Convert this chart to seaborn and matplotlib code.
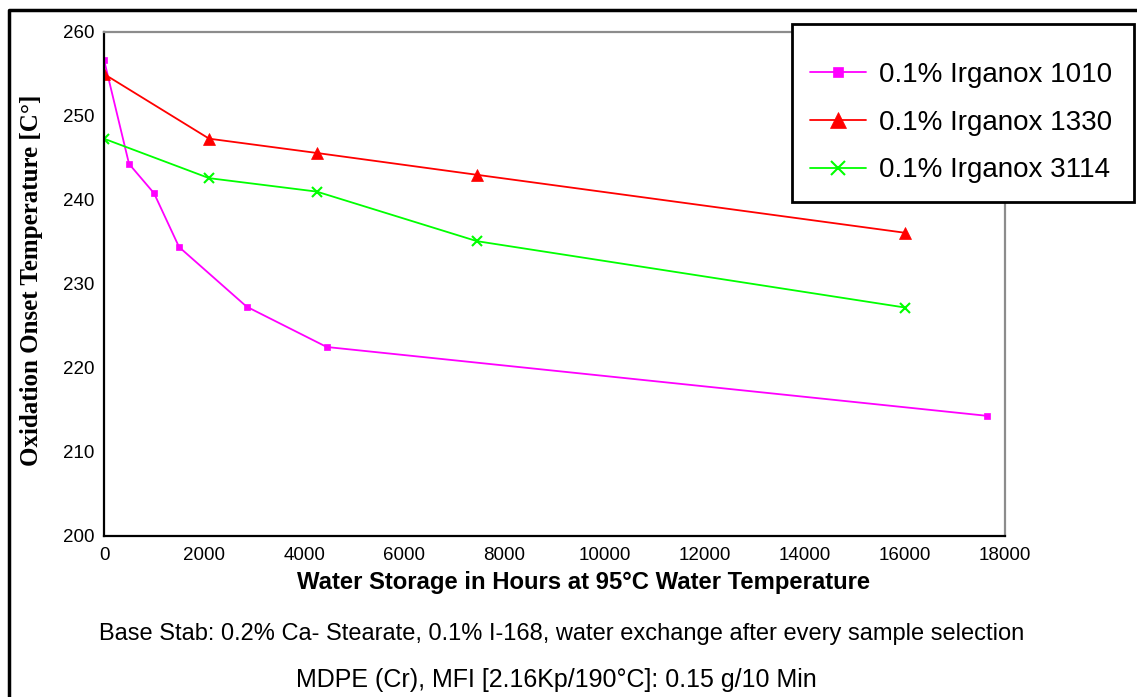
import matplotlib
matplotlib.use("Agg")
import matplotlib.pyplot as plt
import seaborn as sns
import pandas as pd
from matplotlib.lines import Line2D
from matplotlib.patches import Rectangle

sns.set_theme(style="white")
plt.rcParams['font.family'] = ['Liberation Sans', 'DejaVu Sans']

# Data
hours_1010 = [0, 500, 1000, 1500, 2850, 4450, 17650]
temp_1010 = [256.7, 244.3, 240.8, 234.4, 227.3, 222.5, 214.3]
hours_1330 = [0, 2100, 4250, 7450, 16000]
temp_1330 = [255.0, 247.3, 245.6, 243.0, 236.1]
hours_3114 = [0, 2100, 4250, 7450, 16000]
temp_3114 = [247.3, 242.6, 241.0, 235.1, 227.2]
labels = ["0.1% Irganox 1010", "0.1% Irganox 1330", "0.1% Irganox 3114"]
x_ticks = [0, 2000, 4000, 6000, 8000, 10000, 12000, 14000, 16000, 18000]
y_ticks = [200, 210, 220, 230, 240, 250, 260]

colors = ["#FF00FF", "#FF0000", "#00FF00"]
markers = ["s", "^", "x"]
msizes = [4, 8.5, 7]

W, H = 1137, 697
fig = plt.figure(figsize=(W / 100, H / 100), dpi=100)
ax = fig.add_axes([104/W, 1-536/H, (1005-104)/W, (536-32)/H])

series = [(hours_1010, temp_1010), (hours_1330, temp_1330), (hours_3114, temp_3114)]
for (xs, ys), lab, c, m, ms in zip(series, labels, colors, markers, msizes):
    df = pd.DataFrame({"x": xs, "y": ys})
    sns.lineplot(data=df, x="x", y="y", ax=ax, color=c, marker=m, markersize=ms,
                 markeredgecolor=c, markeredgewidth=1.5 if m == "x" else 0.5,
                 linewidth=1.3, label=lab, legend=False)

ax.set_xlim(0, 18000)
ax.set_ylim(200, 260)
ax.set_xticks(x_ticks)
ax.set_yticks(y_ticks)
ax.tick_params(axis="both", direction="inout", length=10, width=1.5, color="black",
               labelsize=13.5, labelcolor="black", pad=2)
ax.tick_params(axis="x", pad=3)
for s in ["left", "bottom"]:
    ax.spines[s].set_color("black")
    ax.spines[s].set_linewidth(1.6)
for s in ["top", "right"]:
    ax.spines[s].set_color("#8c8c8c")
    ax.spines[s].set_linewidth(1.6)
ax.grid(False)

ax.set_xlabel("Water Storage in Hours at 95°C Water Temperature", fontsize=17.2,
              fontweight="bold", color="black")
ax.xaxis.set_label_coords((584-104)/(1005-104), -(583-536)/(536-32))
ax.xaxis.label.set_va("center")
ax.set_ylabel("Oxidation Onset Temperature [C°]", fontsize=18, fontweight="bold",
              family=["Liberation Serif", "DejaVu Serif"], color="black")
ax.yaxis.set_label_coords(-(104-32)/(1005-104), (536-280)/(536-32))
ax.yaxis.label.set_va("center")

# legend box
fig.add_artist(Rectangle((792/W, 1-202/H), (1134-792)/W, (202-24)/H,
                         transform=fig.transFigure, facecolor="white",
                         edgecolor="black", linewidth=2, zorder=3))
handles = [Line2D([0], [0], color=c, marker=m, markersize=ms + 3, markeredgecolor=c,
                  markeredgewidth=1.5 if m == "x" else 0.5, linewidth=1.3)
           for c, m, ms in zip(colors, markers, msizes)]
leg = fig.legend(handles, labels, loc="upper left", bbox_to_anchor=(810/W, 1-62/H),
                 fontsize=20, frameon=False, borderpad=0, borderaxespad=0,
                 labelspacing=0.78, handlelength=2.0, handletextpad=0.5)
leg.set_zorder(5)
for t in leg.get_texts():
    t.set_color("black")

fig.text(562/W, 1-634/H, "Base Stab: 0.2% Ca- Stearate, 0.1% I-168, water exchange after every sample selection",
         ha="center", va="center", fontsize=17, color="black")
fig.text(556/W, 1-680/H, "MDPE (Cr), MFI [2.16Kp/190°C]: 0.15 g/10 Min",
         ha="center", va="center", fontsize=18, color="black")

# outer frame (top and left edges)
fig.add_artist(Line2D([9/W, 9/W, 1.0], [0.0, 1-10/H, 1-10/H],
                      transform=fig.transFigure, color="black", linewidth=2.5))

fig.savefig("out.png", dpi=100)
